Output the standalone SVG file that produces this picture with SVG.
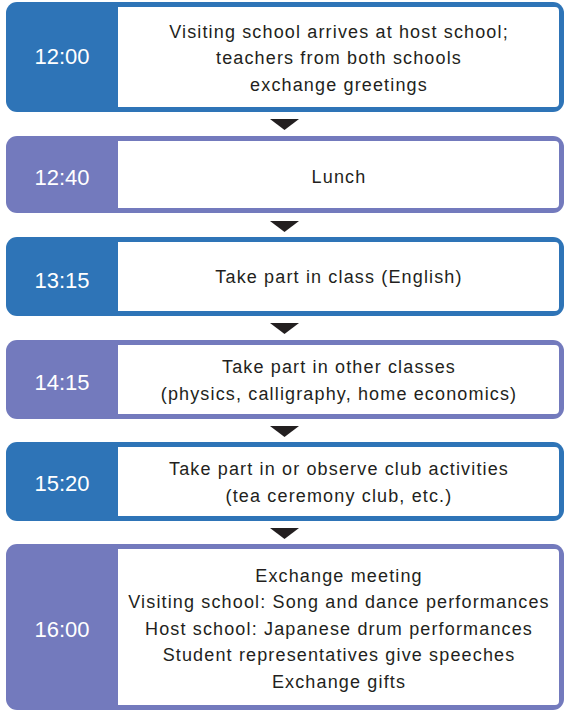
<svg xmlns="http://www.w3.org/2000/svg" width="565" height="710" viewBox="0 0 565 710">
<style>
.blue{fill:#2e74b7}
.purple{fill:#737abd}
.inner{fill:#ffffff}
.time{font-family:"Liberation Sans",Arial,sans-serif;font-size:22px;fill:#ffffff;text-anchor:middle}
.txt{font-family:"Liberation Sans",Arial,sans-serif;font-size:18px;letter-spacing:1.15px;fill:#231f20;text-anchor:middle}
.arrow{fill:#231f20}
</style>
<rect width="565" height="710" fill="#ffffff"/>
<g id="row1">
<rect class="blue" x="6" y="2" width="558" height="110" rx="11"/>
<path class="inner" d="M118 7 H555 Q559 7 559 11 V103 Q559 107 555 107 H118 Z"/>
<text class="time" x="62" y="64">12:00</text>
<text class="txt" x="339" y="37.5">Visiting school arrives at host school;</text>
<text class="txt" x="339" y="64">teachers from both schools</text>
<text class="txt" x="339" y="90.5">exchange greetings</text>
</g>
<g id="row2">
<rect class="purple" x="6" y="136" width="558" height="77" rx="11"/>
<path class="inner" d="M118 141 H555 Q559 141 559 145 V204 Q559 208 555 208 H118 Z"/>
<text class="time" x="62" y="185">12:40</text>
<text class="txt" x="339" y="183">Lunch</text>
</g>
<g id="row3">
<rect class="blue" x="6" y="237" width="558" height="79" rx="11"/>
<path class="inner" d="M118 242 H555 Q559 242 559 246 V307 Q559 311 555 311 H118 Z"/>
<text class="time" x="62" y="288">13:15</text>
<text class="txt" x="339" y="283">Take part in class (English)</text>
</g>
<g id="row4">
<rect class="purple" x="6" y="340" width="558" height="79" rx="11"/>
<path class="inner" d="M118 345 H555 Q559 345 559 349 V410 Q559 414 555 414 H118 Z"/>
<text class="time" x="62" y="390">14:15</text>
<text class="txt" x="339" y="373">Take part in other classes</text>
<text class="txt" x="339" y="400">(physics, calligraphy, home economics)</text>
</g>
<g id="row5">
<rect class="blue" x="6" y="442" width="558" height="79" rx="11"/>
<path class="inner" d="M118 447 H555 Q559 447 559 451 V512 Q559 516 555 516 H118 Z"/>
<text class="time" x="62" y="491">15:20</text>
<text class="txt" x="339" y="475">Take part in or observe club activities</text>
<text class="txt" x="339" y="502">(tea ceremony club, etc.)</text>
</g>
<g id="row6">
<rect class="purple" x="6" y="544" width="558" height="166" rx="11"/>
<path class="inner" d="M118 549 H555 Q559 549 559 553 V701 Q559 705 555 705 H118 Z"/>
<text class="time" x="62" y="637">16:00</text>
<text class="txt" x="339" y="582">Exchange meeting</text>
<text class="txt" x="339" y="608">Visiting school: Song and dance performances</text>
<text class="txt" x="339" y="635">Host school: Japanese drum performances</text>
<text class="txt" x="339" y="661">Student representatives give speeches</text>
<text class="txt" x="339" y="688">Exchange gifts</text>
</g>
<g id="connectors">
<polygon class="arrow" points="270,119 299,119 284.5,130"/>
<polygon class="arrow" points="270,221 299,221 284.5,232"/>
<polygon class="arrow" points="270,323 299,323 284.5,334"/>
<polygon class="arrow" points="270,426 299,426 284.5,437"/>
<polygon class="arrow" points="270,528 299,528 284.5,539"/>
</g>
</svg>
